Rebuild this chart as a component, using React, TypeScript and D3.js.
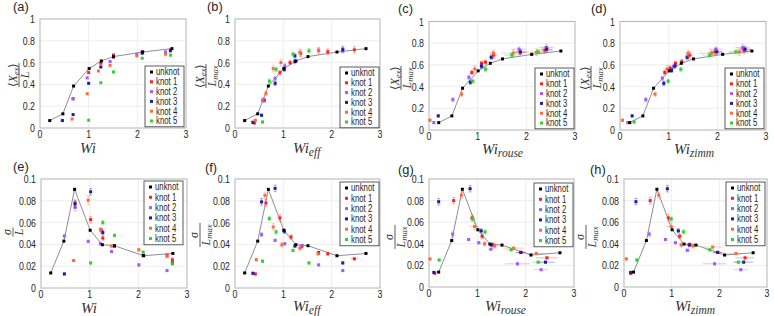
import React, { useEffect, useRef } from 'react';
import * as d3 from 'd3';

// [x, y, xErr, yErr]
type Pt = number[];

const seriesNames = ['unknot', 'knot 1', 'knot 2', 'knot 3', 'knot 4', 'knot 5'];
const seriesColors = ['#000000', '#ff2020', '#a05cff', '#1c1ca8', '#ff6a3a', '#2ad42a'];

const wiTicks = [0, 1, 2, 3];
const extTicks = [0, 0.2, 0.4, 0.6, 0.8, 1];
const extTickLabels = ['0', '0.2', '0.4', '0.6', '0.8', '1'];
const sigTicks = [0, 0.02, 0.04, 0.06, 0.08, 0.1];
const sigTickLabels = ['0', '0.02', '0.04', '0.06', '0.08', '0.1'];

const unknotWi = [0.2, 0.47, 0.69, 1.01, 1.26, 1.51, 2.11, 2.71];
const unknotExt = [0.068, 0.13, 0.385, 0.545, 0.615, 0.655, 0.697, 0.728];
const unknotSigma = [0.0138, 0.043, 0.0905, 0.053, 0.0397, 0.0388, 0.0296, 0.0317];

// knot 1..5, extension / L vs Wi
const extWi: Pt[][] = [
  [[0.68, 0.268], [1.0, 0.508], [1.25, 0.594], [1.51, 0.67], [2.1, 0.7], [2.68, 0.714]],
  [[0.46, 0.07], [0.68, 0.268], [0.97, 0.46], [1.44, 0.61], [1.99, 0.677], [2.58, 0.698]],
  [[0.46, 0.068], [0.68, 0.123], [1.0, 0.41], [1.25, 0.56], [1.51, 0.652], [2.1, 0.686], [2.68, 0.708]],
  [[0.66, 0.083], [0.97, 0.314], [1.2, 0.523], [1.44, 0.575], [1.99, 0.662], [2.58, 0.677]],
  [[1.0, 0.071], [1.25, 0.415], [1.51, 0.514], [2.1, 0.64], [2.68, 0.668]],
];

const extWiEff: Pt[][] = [
  [[0.4, 0.046, 0, 0.01], [0.61, 0.255, 0, 0.02], [0.93, 0.508, 0, 0.02], [1.14, 0.6, 0, 0.02], [1.36, 0.686, 0, 0.03], [1.92, 0.7, 0, 0.025], [2.47, 0.717, 0, 0.03]],
  [[0.57, 0.255, 0, 0.02], [0.83, 0.455, 0, 0.02], [1.03, 0.57, 0, 0.02], [1.73, 0.714, 0, 0.02], [2.23, 0.723, 0, 0.03]],
  [[0.37, 0.052, 0, 0.01], [0.55, 0.117, 0, 0.01], [0.83, 0.41, 0, 0.02], [1.02, 0.538, 0, 0.02], [1.24, 0.61, 0, 0.02], [1.24, 0.662, 0, 0.02], [2.23, 0.717, 0, 0.025]],
  [[0.42, 0.07, 0, 0.01], [0.64, 0.317, 0, 0.02], [0.79, 0.545, 0, 0.03], [0.95, 0.6, 0, 0.03], [1.34, 0.692, 0, 0.03], [1.73, 0.708, 0, 0.03]],
  [[0.57, 0.055, 0, 0.01], [0.71, 0.43, 0, 0.02], [0.85, 0.538, 0, 0.02], [1.2, 0.677, 0, 0.02], [1.53, 0.708, 0, 0.02]],
];

const extWiRouse: Pt[][] = [
  [[0.88, 0.53, 0.03, 0.02], [1.08, 0.615, 0.04, 0.02], [1.16, 0.625, 0.05, 0.02], [1.33, 0.69, 0.08, 0.03], [1.87, 0.72, 0.15, 0.025], [2.38, 0.735, 0.15, 0.03]],
  [[0.1, 0.068, 0.02, 0.01], [0.49, 0.28, 0.03, 0.02], [0.82, 0.486, 0.03, 0.02], [1.08, 0.585, 0.05, 0.02], [1.85, 0.745, 0.15, 0.02], [2.41, 0.76, 0.15, 0.03]],
  [[0.19, 0.13, 0.02, 0.01], [0.85, 0.44, 0.03, 0.02], [1.08, 0.59, 0.04, 0.02], [1.28, 0.67, 0.05, 0.02], [1.88, 0.717, 0.12, 0.02], [2.42, 0.745, 0.12, 0.025]],
  [[0.02, 0.09, 0.02, 0.01], [0.67, 0.33, 0.03, 0.02], [0.94, 0.563, 0.05, 0.03], [1.32, 0.708, 0.08, 0.03], [1.73, 0.708, 0.25, 0.03], [2.21, 0.717, 0.2, 0.03]],
  [[0.9, 0.45, 0.04, 0.02], [1.16, 0.56, 0.04, 0.02], [1.7, 0.69, 0.15, 0.02], [2.24, 0.72, 0.15, 0.02]],
];

const extWiZimm: Pt[][] = [
  [[0.92, 0.53, 0.03, 0.02], [1.03, 0.57, 0.03, 0.02], [1.14, 0.615, 0.04, 0.02], [1.27, 0.63, 0.05, 0.02], [1.43, 0.69, 0.08, 0.03], [1.95, 0.72, 0.15, 0.025], [2.55, 0.735, 0.15, 0.03]],
  [[0.16, 0.068, 0.02, 0.01], [0.53, 0.28, 0.03, 0.02], [0.87, 0.477, 0.03, 0.02], [1.1, 0.585, 0.05, 0.02], [1.97, 0.745, 0.15, 0.02], [2.52, 0.76, 0.15, 0.03]],
  [[0.25, 0.13, 0.02, 0.01], [0.9, 0.43, 0.03, 0.02], [1.06, 0.548, 0.03, 0.02], [1.13, 0.59, 0.04, 0.02], [1.38, 0.67, 0.05, 0.02], [1.99, 0.72, 0.12, 0.02], [2.57, 0.745, 0.12, 0.025]],
  [[0.05, 0.09, 0.02, 0.01], [0.72, 0.33, 0.03, 0.02], [0.97, 0.563, 0.05, 0.03], [1.4, 0.708, 0.08, 0.03], [1.88, 0.707, 0.25, 0.03], [2.45, 0.717, 0.2, 0.03]],
  [[0.29, 0.074, 0.02, 0.01], [0.99, 0.45, 0.04, 0.02], [1.25, 0.56, 0.04, 0.02], [1.84, 0.69, 0.15, 0.02], [2.38, 0.72, 0.15, 0.02]],
];

// knot 1..5, sigma / L vs Wi
const sigWi: Pt[][] = [
  [[0.7, 0.078, 0, 0.003], [1.02, 0.0628, 0, 0.003], [1.24, 0.053, 0, 0.002], [1.27, 0.0458, 0, 0.002], [2.59, 0.0298, 0, 0.002], [2.7, 0.0258, 0, 0.002]],
  [[0.48, 0.0477, 0, 0.001], [0.7, 0.0738, 0, 0.003], [0.97, 0.0428, 0, 0.001], [1.22, 0.0406, 0, 0.001], [1.45, 0.0335, 0, 0.001], [2.01, 0.0212, 0, 0.001], [2.59, 0.016, 0, 0.001]],
  [[0.48, 0.0129, 0, 0.001], [0.7, 0.077, 0, 0.003], [1.02, 0.0883, 0, 0.003], [1.27, 0.0508, 0, 0.002], [1.51, 0.0385, 0, 0.001], [2.1, 0.0298, 0, 0.001], [2.7, 0.0228, 0, 0.001]],
  [[0.67, 0.0252, 0, 0.001], [0.97, 0.0806, 0, 0.004], [1.22, 0.0535, 0, 0.002], [1.45, 0.0385, 0, 0.001], [2.01, 0.035, 0, 0.001], [2.59, 0.0292, 0, 0.001]],
  [[1.02, 0.023, 0, 0.001], [1.27, 0.06, 0, 0.002], [1.51, 0.0483, 0, 0.001], [2.1, 0.0329, 0, 0.001], [2.7, 0.0222, 0, 0.001]],
];

const sigWiEff: Pt[][] = [
  [[0.42, 0.0129, 0, 0.001], [0.64, 0.078, 0, 0.003], [0.93, 0.0643, 0, 0.003], [1.16, 0.0468, 0, 0.002], [1.38, 0.038, 0, 0.002], [1.92, 0.0314, 0, 0.001], [2.47, 0.0268, 0.08, 0.001]],
  [[0.55, 0.049, 0, 0.002], [0.83, 0.0437, 0, 0.001], [1.03, 0.0406, 0, 0.001], [1.39, 0.039, 0, 0.001], [1.73, 0.0212, 0, 0.001], [2.23, 0.016, 0, 0.001]],
  [[0.37, 0.0135, 0, 0.001], [0.55, 0.079, 0, 0.003], [0.83, 0.0914, 0, 0.003], [1.02, 0.052, 0, 0.002], [1.24, 0.0385, 0, 0.001], [1.73, 0.0323, 0, 0.001], [2.23, 0.023, 0, 0.001]],
  [[0.44, 0.026, 0, 0.001], [0.62, 0.085, 0, 0.003], [0.79, 0.056, 0, 0.003], [0.97, 0.0397, 0, 0.002], [1.34, 0.0366, 0, 0.002], [1.72, 0.0314, 0.04, 0.001]],
  [[0.57, 0.0246, 0, 0.001], [0.71, 0.0637, 0, 0.002], [0.85, 0.0514, 0, 0.002], [1.2, 0.0345, 0, 0.001], [1.53, 0.023, 0.03, 0.001]],
];

const sigWiRouse: Pt[][] = [
  [[0.12, 0.0128, 0.02, 0.001], [0.51, 0.08, 0.02, 0.003], [0.89, 0.064, 0.03, 0.003], [1.1, 0.047, 0.04, 0.002], [1.32, 0.039, 0.05, 0.002], [1.9, 0.032, 0.1, 0.001], [2.44, 0.027, 0.22, 0.001]],
  [[0.49, 0.049, 0.03, 0.002], [0.82, 0.044, 0.03, 0.001], [1.03, 0.041, 0.04, 0.001], [1.28, 0.035, 0.06, 0.001], [1.83, 0.0215, 0.26, 0.001], [2.32, 0.016, 0.15, 0.001]],
  [[0.1, 0.0135, 0.02, 0.001], [0.2, 0.079, 0.02, 0.003], [0.85, 0.091, 0.03, 0.003], [1.08, 0.052, 0.04, 0.002], [1.29, 0.039, 0.05, 0.001], [1.9, 0.032, 0.1, 0.001], [2.41, 0.023, 0.2, 0.001]],
  [[0.02, 0.026, 0.02, 0.001], [0.67, 0.085, 0.03, 0.003], [0.94, 0.056, 0.1, 0.003], [1.15, 0.04, 0.05, 0.002], [1.36, 0.038, 0.06, 0.002], [1.75, 0.036, 0.22, 0.001], [2.22, 0.031, 0.2, 0.001]],
  [[0.21, 0.025, 0.02, 0.001], [0.91, 0.063, 0.03, 0.002], [1.16, 0.051, 0.04, 0.002], [1.7, 0.0345, 0.1, 0.001], [2.26, 0.023, 0.12, 0.001]],
];

const sigWiZimm: Pt[][] = [
  [[0.14, 0.0126, 0.02, 0.001], [0.55, 0.08, 0.02, 0.003], [0.93, 0.064, 0.03, 0.003], [1.17, 0.047, 0.04, 0.002], [1.38, 0.039, 0.05, 0.002], [1.97, 0.032, 0.1, 0.001], [2.54, 0.027, 0.2, 0.001]],
  [[0.53, 0.049, 0.03, 0.002], [0.87, 0.044, 0.03, 0.001], [1.08, 0.041, 0.04, 0.001], [1.33, 0.034, 0.06, 0.001], [1.9, 0.0215, 0.25, 0.001], [2.45, 0.016, 0.15, 0.001]],
  [[0.14, 0.0135, 0.02, 0.001], [0.25, 0.079, 0.02, 0.003], [0.91, 0.091, 0.03, 0.003], [1.14, 0.052, 0.04, 0.002], [1.37, 0.039, 0.05, 0.001], [1.96, 0.032, 0.1, 0.001], [2.51, 0.023, 0.2, 0.001]],
  [[0.05, 0.026, 0.02, 0.001], [0.73, 0.085, 0.03, 0.003], [0.99, 0.056, 0.1, 0.003], [1.2, 0.039, 0.05, 0.002], [1.45, 0.038, 0.06, 0.002], [1.86, 0.037, 0.22, 0.001], [2.35, 0.031, 0.2, 0.001]],
  [[0.27, 0.025, 0.02, 0.001], [0.99, 0.063, 0.03, 0.002], [1.25, 0.051, 0.04, 0.002], [1.8, 0.0345, 0.1, 0.001], [2.4, 0.023, 0.12, 0.001]],
];

interface Panel {
  tag: string; knots: Pt[][]; sigma: boolean; sub: string; lmax: boolean;
  left: number; right: number; top: number; bottom: number;
  tagX: number; tagY: number; xlabX: number; xlabY: number; ylabX: number; ylabY: number;
  legRight: number; legTop: number;
}

const panels: Panel[] = [
  { tag: '(a)', knots: extWi, sigma: false, sub: '', lmax: false, left: 40, right: 186, top: 19, bottom: 128, tagX: 13, tagY: 11, xlabX: 80, xlabY: 153, ylabX: 19, ylabY: 75, legRight: 184, legTop: 66 },
  { tag: '(b)', knots: extWiEff, sigma: false, sub: 'eff', lmax: true, left: 235, right: 380, top: 19, bottom: 128, tagX: 207, tagY: 11, xlabX: 293, xlabY: 153, ylabX: 206, ylabY: 76, legRight: 379, legTop: 67 },
  { tag: '(c)', knots: extWiRouse, sigma: false, sub: 'rouse', lmax: true, left: 429, right: 575, top: 21.5, bottom: 130, tagX: 398, tagY: 13, xlabX: 482, xlabY: 154, ylabX: 401, ylabY: 78, legRight: 574, legTop: 68 },
  { tag: '(d)', knots: extWiZimm, sigma: false, sub: 'zimm', lmax: true, left: 620, right: 766, top: 21.5, bottom: 130, tagX: 591, tagY: 13, xlabX: 674, xlabY: 154, ylabX: 591, ylabY: 78, legRight: 764, legTop: 68 },
  { tag: '(e)', knots: sigWi, sigma: true, sub: '', lmax: false, left: 41, right: 187, top: 179, bottom: 288, tagX: 13, tagY: 171, xlabX: 81, xlabY: 313, ylabX: 13, ylabY: 232, legRight: 183, legTop: 181 },
  { tag: '(f)', knots: sigWiEff, sigma: true, sub: 'eff', lmax: true, left: 235, right: 380, top: 179, bottom: 288, tagX: 205, tagY: 172, xlabX: 293, xlabY: 311, ylabX: 200, ylabY: 235, legRight: 379, legTop: 182 },
  { tag: '(g)', knots: sigWiRouse, sigma: true, sub: 'rouse', lmax: true, left: 429, right: 574, top: 179, bottom: 287, tagX: 398, tagY: 174, xlabX: 485, xlabY: 311, ylabX: 395, ylabY: 237, legRight: 573, legTop: 183 },
  { tag: '(h)', knots: sigWiZimm, sigma: true, sub: 'zimm', lmax: true, left: 624, right: 767, top: 179, bottom: 287, tagX: 590, tagY: 174, xlabX: 675, xlabY: 311, ylabX: 586, ylabY: 237, legRight: 765, legTop: 182 },
];

const SANS = "'Liberation Sans', Arial, sans-serif";
const SERIF = "'Liberation Serif', 'Times New Roman', serif";

const App: React.FC = () => {
  const ref = useRef<SVGSVGElement | null>(null);

  useEffect(() => {
    const svg = d3.select(ref.current);
    svg.selectAll('*').remove();

    // narrow sans text, like the squeezed original
    const label = (parent: any, x: number, y: number, str: string, size: number, anchor: string, sx = 0.8) =>
      parent.append('text')
        .attr('transform', `translate(${x},${y}) scale(${sx},1)`)
        .attr('text-anchor', anchor)
        .attr('font-family', SANS)
        .attr('font-size', size)
        .attr('fill', '#262626')
        .text(str);

    panels.forEach(p => {
      const x = d3.scaleLinear().domain([0, 3]).range([p.left, p.right]);
      const y = d3.scaleLinear().domain(p.sigma ? [0, 0.1] : [0, 1]).range([p.bottom, p.top]);
      const yTicks = p.sigma ? sigTicks : extTicks;
      const yTickLabels = p.sigma ? sigTickLabels : extTickLabels;
      const g = svg.append('g');

      g.append('rect')
        .attr('x', p.left).attr('y', p.top)
        .attr('width', p.right - p.left).attr('height', p.bottom - p.top)
        .attr('fill', '#fff');

      // grid
      g.selectAll('.vgrid').data(wiTicks.slice(1, -1)).enter().append('line')
        .attr('x1', (d: number) => x(d)).attr('x2', (d: number) => x(d))
        .attr('y1', p.top).attr('y2', p.bottom)
        .attr('stroke', '#e8e8e8').attr('stroke-width', 0.8);
      g.selectAll('.hgrid').data(yTicks.slice(1, -1)).enter().append('line')
        .attr('x1', p.left).attr('x2', p.right)
        .attr('y1', (d: number) => y(d)).attr('y2', (d: number) => y(d))
        .attr('stroke', '#e8e8e8').attr('stroke-width', 0.8);

      g.append('rect')
        .attr('x', p.left).attr('y', p.top)
        .attr('width', p.right - p.left).attr('height', p.bottom - p.top)
        .attr('fill', 'none').attr('stroke', '#b4b4b4').attr('stroke-width', 1);

      // tick labels
      wiTicks.forEach(t => label(g, x(t), p.bottom + 9.5, String(t), 11, 'middle'));
      yTicks.forEach((t, i) => label(g, p.left - 5, y(t) + 4, yTickLabels[i], 11, 'end'));

      // unknot line
      const line = d3.line<number>()
        .x((_d, i) => x(unknotWi[i]))
        .y(d => y(d));
      const uy = p.sigma ? unknotSigma : unknotExt;
      g.append('path')
        .attr('d', line(uy))
        .attr('fill', 'none')
        .attr('stroke', '#8e8e9c')
        .attr('stroke-width', 1);

      // knot error bars + points
      p.knots.forEach((pts, k) => {
        const c = seriesColors[k + 1];
        pts.forEach(d => {
          const xe = d[2] || 0;
          const ye = d[3] || 0;
          if (ye > 0) {
            g.append('line')
              .attr('x1', x(d[0])).attr('x2', x(d[0]))
              .attr('y1', y(d[1] - ye)).attr('y2', y(d[1] + ye))
              .attr('stroke', c).attr('stroke-opacity', 0.35).attr('stroke-width', 1);
            [d[1] - ye, d[1] + ye].forEach(v => g.append('line')
              .attr('x1', x(d[0]) - 1.5).attr('x2', x(d[0]) + 1.5)
              .attr('y1', y(v)).attr('y2', y(v))
              .attr('stroke', c).attr('stroke-opacity', 0.35).attr('stroke-width', 1));
          }
          if (xe > 0) {
            g.append('line')
              .attr('x1', x(d[0] - xe)).attr('x2', x(d[0] + xe))
              .attr('y1', y(d[1])).attr('y2', y(d[1]))
              .attr('stroke', c).attr('stroke-opacity', 0.35).attr('stroke-width', 1);
          }
        });
        g.selectAll(`.pt${k}`).data(pts).enter().append('rect')
          .attr('x', (d: Pt) => x(d[0]) - 1.5)
          .attr('y', (d: Pt) => y(d[1]) - 1.5)
          .attr('width', 3).attr('height', 3)
          .attr('fill', c);
      });

      g.selectAll('.upt').data(uy).enter().append('rect')
        .attr('x', (_d: number, i: number) => x(unknotWi[i]) - 1.5)
        .attr('y', (d: number) => y(d) - 1.5)
        .attr('width', 3).attr('height', 3)
        .attr('fill', '#000');

      // legend
      const legW = 39;
      const step = p.sigma ? 10.3 : 9.8;
      const legH = step * 6 + 2;
      const lg = g.append('g').attr('transform', `translate(${p.legRight - legW},${p.legTop})`);
      lg.append('rect').attr('width', legW).attr('height', legH)
        .attr('fill', '#fff').attr('stroke', '#333').attr('stroke-width', 0.8);
      seriesNames.forEach((name, i) => {
        const cy = 6 + i * step;
        lg.append('rect').attr('x', 5).attr('y', cy - 1.5).attr('width', 3).attr('height', 3)
          .attr('fill', seriesColors[i]);
        label(lg, 11, cy + 3.3, name, 10, 'start', 0.78);
      });

      // panel tag
      label(g, p.tagX, p.tagY, p.tag, 13.5, 'start', 0.95);

      // x label
      const xl = g.append('text')
        .attr('x', p.xlabX).attr('y', p.xlabY)
        .attr('font-family', SERIF).attr('font-style', 'italic')
        .attr('font-size', 15).attr('fill', '#333');
      xl.append('tspan').text('Wi');
      if (p.sub) xl.append('tspan').attr('dy', 2.5).attr('font-size', 11.5).text(p.sub);

      // y label as rotated fraction
      const fr = g.append('g').attr('transform', `translate(${p.ylabX},${p.ylabY}) rotate(-90)`);
      const num = fr.append('text').attr('x', 0).attr('y', -2.5).attr('text-anchor', 'middle')
        .attr('font-family', SERIF).attr('font-size', 12).attr('fill', '#333');
      if (p.sigma) {
        num.append('tspan').attr('font-style', 'italic').text('σ');
      } else {
        num.append('tspan').text('⟨');
        num.append('tspan').attr('font-style', 'italic').text('X');
        num.append('tspan').attr('font-style', 'italic').attr('font-size', 8.5).attr('dy', 2.5).text('ex');
        num.append('tspan').attr('dy', -2.5).text('⟩');
      }
      const fw = p.sigma && !p.lmax ? 9 : 24;
      fr.append('line').attr('x1', -fw / 2).attr('x2', fw / 2).attr('y1', 0).attr('y2', 0)
        .attr('stroke', '#333').attr('stroke-width', 0.8);
      const den = fr.append('text').attr('x', 0).attr('y', 9.5).attr('text-anchor', 'middle')
        .attr('font-family', SERIF).attr('font-size', 12).attr('fill', '#333');
      den.append('tspan').attr('font-style', 'italic').text('L');
      if (p.lmax) den.append('tspan').attr('font-style', 'italic').attr('font-size', 8.5).attr('dy', 2.5).text('max');
    });
  }, []);

  return (
    <svg ref={ref} width={774} height={316}
      style={{ position: 'absolute', left: 0, top: 0, background: '#fff' }} />
  );
};

export default App;
